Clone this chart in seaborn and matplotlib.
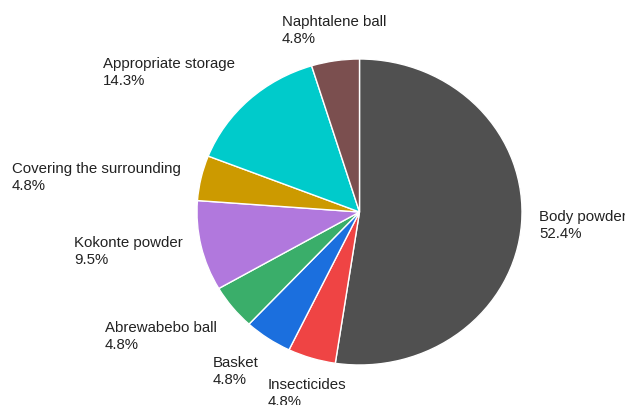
import matplotlib
matplotlib.use("Agg")
import matplotlib.pyplot as plt
import seaborn as sns

categories = ["Body powder", "Insecticides", "Basket", "Abrewabebo ball",
              "Kokonte powder", "Covering the surrounding",
              "Appropriate storage", "Naphtalene ball"]
counts = [11, 1, 1, 1, 2, 1, 3, 1]
pct_labels = ["52.4%", "4.8%", "4.8%", "4.8%", "9.5%", "4.8%", "14.3%", "4.8%"]
colors = ["#505050", "#ef4444", "#1b6fde", "#3aae6a", "#b178dd",
          "#cc9a00", "#00cbcb", "#7b4f4f"]

# label anchor (left x, first-line baseline y) in pixels, layout only
label_pos = [(539, 221), (268, 389), (213, 367), (105, 332),
             (74, 247), (12, 173), (103, 68), (282, 26)]

sns.set_theme(style="white")
plt.rcParams['font.family'] = ['Liberation Sans', 'DejaVu Sans']

W, H = 625, 406
fig = plt.figure(figsize=(W / 100, H / 100), dpi=100)
fig.patch.set_facecolor("white")
ax = fig.add_axes([0, 0, 1, 1])
ax.pie(counts, colors=colors, startangle=90, counterclock=False,
       wedgeprops=dict(edgecolor="white", linewidth=1.0))
cx, cy, rx, ry = 359.5, 213, 162.5, 153
ax.set_aspect("auto")
ax.set_xlim(-cx / rx, (W - cx) / rx)
ax.set_ylim(-(H - cy) / ry, cy / ry)
ax.axis("off")

fs = 10.8
for name, pct, (x, y) in zip(categories, pct_labels, label_pos):
    fig.text(x / W, 1 - y / H, name, fontsize=fs, color="#222222",
             ha="left", va="baseline")
    fig.text(x / W, 1 - (y + 17) / H, pct, fontsize=fs, color="#222222",
             ha="left", va="baseline")

fig.savefig("out.png", dpi=100, facecolor="white")
